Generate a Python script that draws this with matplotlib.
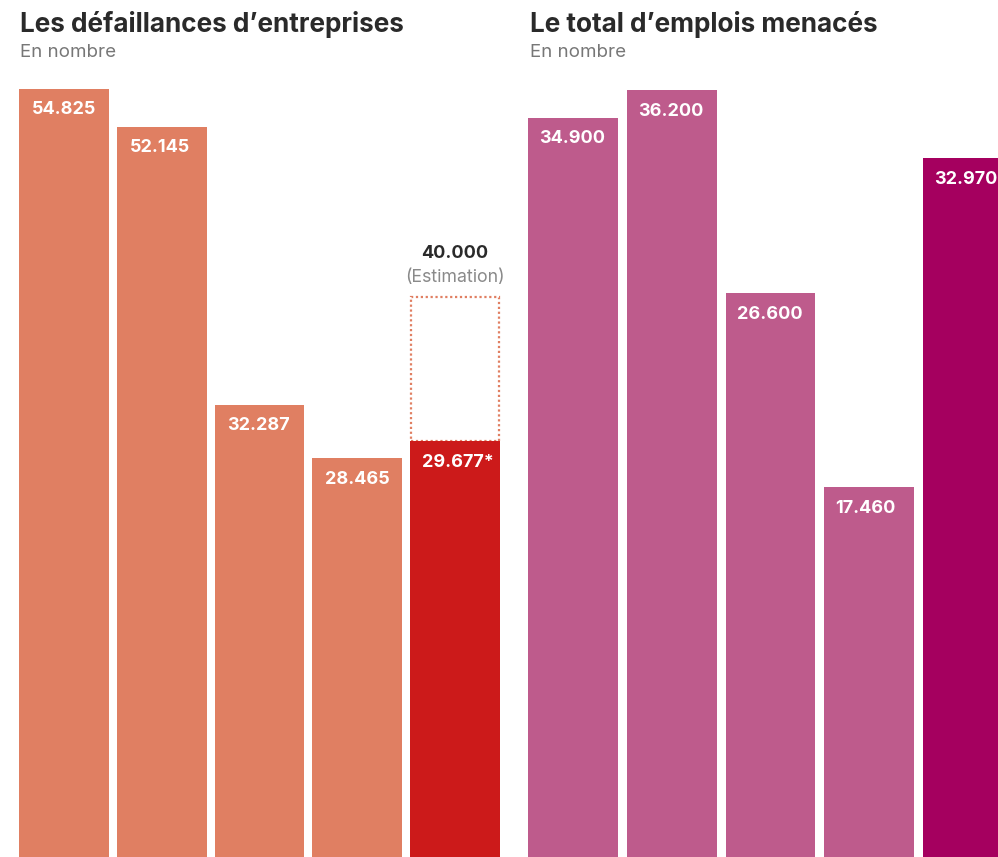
import matplotlib
matplotlib.use('Agg')
import matplotlib.pyplot as plt

# data
left_values = [54825, 52145, 32287, 28465, 29677]
left_labels = ['54.825', '52.145', '32.287', '28.465', '29.677*']
estimate_value = 40000
estimate_label = '40.000'
right_values = [34900, 36200, 26600, 17460, 32970]
right_labels = ['34.900', '36.200', '26.600', '17.460', '32.970']

left_colors = ['#E07F62'] * 4 + ['#CC1A1A']
right_colors = ['#BE5B8C'] * 4 + ['#A5005F']

plt.rcParams['font.family'] = ['Inter', 'DejaVu Sans']

W, H = 998, 857
fig = plt.figure(figsize=(W / 100, H / 100), dpi=100)

def px_axes(x0, x1, ytop):
    # axes placed in pixel coords, bottom at the figure bottom
    return fig.add_axes([x0 / W, 0, (x1 - x0) / W, (H - ytop) / H])

def bare(ax):
    for s in ax.spines.values():
        s.set_visible(False)
    ax.set_xticks([])
    ax.set_yticks([])
    ax.patch.set_alpha(0)

# left panel
ax1 = px_axes(15.5, 503.5, 89)
x = range(len(left_values))
# dotted estimate box, only the part above the real value
ax1.bar(4, estimate_value - left_values[4], bottom=left_values[4], width=0.9, fill=False,
        edgecolor='#E07F62', linestyle=(0, (1, 1.2)), linewidth=1.6, zorder=1)
ax1.bar(x, left_values, width=0.92, color=left_colors, zorder=2)
ax1.set_xlim(-0.5, 4.5)
ax1.set_ylim(0, max(left_values))
bare(ax1)
for i, (v, lab) in enumerate(zip(left_values, left_labels)):
    ax1.annotate(lab, xy=(i - 0.46, v), xytext=(9, -9), textcoords='offset points',
                 ha='left', va='top', color='white', fontsize=13, fontweight='bold',
                 annotation_clip=False, zorder=3)
ax1.annotate(estimate_label, xy=(4, estimate_value), xytext=(0, 25), textcoords='offset points',
             ha='center', va='bottom', color='#2a2a2a', fontsize=13, fontweight='bold',
             annotation_clip=False)
ax1.annotate('(Estimation)', xy=(4, estimate_value), xytext=(0, 8), textcoords='offset points',
             ha='center', va='bottom', color='#8a8a8a', fontsize=12.8,
             annotation_clip=False)

# right panel
ax2 = px_axes(523.5, 1017.5, 90)
ax2.bar(range(len(right_values)), right_values, width=0.91, color=right_colors)
ax2.set_xlim(-0.5, 4.5)
ax2.set_ylim(0, max(right_values))
bare(ax2)
for i, (v, lab) in enumerate(zip(right_values, right_labels)):
    ax2.annotate(lab, xy=(i - 0.455, v), xytext=(8, -9), textcoords='offset points',
                 ha='left', va='top', color='white', fontsize=13, fontweight='bold',
                 annotation_clip=False)

# titles
fig.text(20 / W, 1 - 11 / H, 'Les défaillances d\u2019entreprises', ha='left', va='top',
         fontsize=18.8, fontweight='bold', color='#2a2a2a')
fig.text(20 / W, 1 - 44 / H, 'En nombre', ha='left', va='top', fontsize=13.5, color='#777777')
fig.text(530 / W, 1 - 11 / H, 'Le total d\u2019emplois menacés', ha='left', va='top',
         fontsize=18.8, fontweight='bold', color='#2a2a2a')
fig.text(530 / W, 1 - 44 / H, 'En nombre', ha='left', va='top', fontsize=13.5, color='#777777')

fig.savefig('out.png', dpi=100)
